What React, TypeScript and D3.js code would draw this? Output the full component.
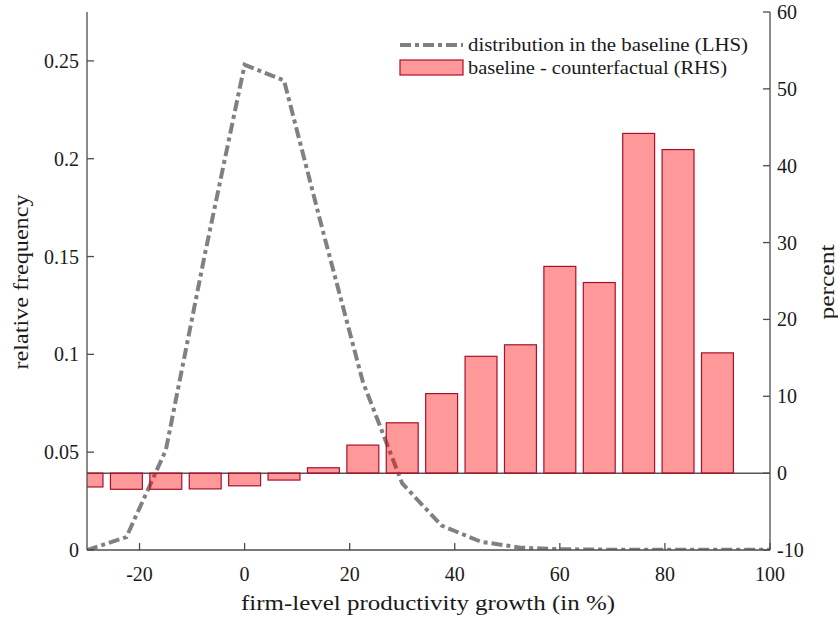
import React, { useEffect, useRef } from 'react';
import * as d3 from 'd3';

// bin centres (productivity growth, %)
const bins = [-30, -22.5, -15, -7.5, 0, 7.5, 15, 22.5, 30, 37.5, 45, 52.5, 60, 67.5, 75, 82.5, 90];
// baseline - counterfactual, percent (RHS)
const diffPct = [-1.8, -2.1, -2.1, -2.05, -1.65, -0.9, 0.7, 3.65, 6.55, 10.35, 15.2, 16.7, 26.9, 24.8, 44.2, 42.1, 15.65];
// baseline distribution (LHS)
const distX = [-30, -22.5, -15, -7.5, 0, 7.5, 15, 22.5, 30, 37.5, 45, 52.5, 60, 67.5, 75, 82.5, 90, 97.5, 105];
const distY = [0, 0.0066, 0.051, 0.152, 0.248, 0.24, 0.162, 0.086, 0.034, 0.0125, 0.0042, 0.0012, 0.0004, 0.0002, 0.0001, 0.0001, 0.0001, 0.0001, 0.0001];

const xTicks = [-20, 0, 20, 40, 60, 80, 100];
const leftTicks = [0, 0.05, 0.1, 0.15, 0.2, 0.25];
const rightTicks = [-10, 0, 10, 20, 30, 40, 50, 60];

export default function App() {
  const svgRef = useRef<SVGSVGElement>(null);

  useEffect(() => {
    const W = 838, H = 617;
    const m = { left: 87, right: 770, top: 12, bottom: 550 };
    const font = '"Liberation Serif", "DejaVu Serif", serif';
    const axisColor = '#4d4d4d';
    const txt = '#1a1a1a';

    const svg = d3.select(svgRef.current).attr('width', W).attr('height', H);
    svg.selectAll('*').remove();

    const x = d3.scaleLinear().domain([-30, 100]).range([m.left, m.right]);
    const yL = d3.scaleLinear().domain([0, 0.275]).range([m.bottom, m.top]);
    const yR = d3.scaleLinear().domain([-10, 60]).range([m.bottom, m.top]);

    svg.append('defs').append('clipPath').attr('id', 'plotclip')
      .append('rect')
      .attr('x', m.left).attr('y', m.top)
      .attr('width', m.right - m.left).attr('height', m.bottom - m.top);

    const plot = svg.append('g').attr('clip-path', 'url(#plotclip)');

    // zero line of RHS
    plot.append('line')
      .attr('x1', m.left).attr('x2', m.right)
      .attr('y1', yR(0)).attr('y2', yR(0))
      .attr('stroke', '#555').attr('stroke-width', 1.5);

    // distribution line
    const line = d3.line<number>()
      .x((_, i) => x(distX[i]))
      .y((d) => yL(d));
    plot.append('path')
      .datum(distY)
      .attr('d', line)
      .attr('fill', 'none')
      .attr('stroke', '#808080')
      .attr('stroke-width', 4)
      .attr('stroke-dasharray', '11,4,4,4');

    // bars
    const step = 7.5;
    const bw = step * 0.81;
    plot.selectAll('rect.bar')
      .data(diffPct)
      .enter()
      .append('rect')
      .attr('class', 'bar')
      .attr('x', (_, i) => x(bins[i] - bw / 2))
      .attr('width', x(bw) - x(0))
      .attr('y', (d) => Math.min(yR(d), yR(0)))
      .attr('height', (d) => Math.abs(yR(d) - yR(0)))
      .attr('fill', 'red')
      .attr('fill-opacity', 0.4)
      .attr('stroke', '#a80f2e')
      .attr('stroke-width', 1.2);

    // axes lines
    const ax = svg.append('g').attr('stroke', axisColor).attr('stroke-width', 1.3);
    ax.append('line').attr('x1', m.left).attr('x2', m.left).attr('y1', m.top).attr('y2', m.bottom);
    ax.append('line').attr('x1', m.right).attr('x2', m.right).attr('y1', m.top).attr('y2', m.bottom);
    ax.append('line').attr('x1', m.left).attr('x2', m.right).attr('y1', m.bottom).attr('y2', m.bottom);

    const tl = 7;
    const tickFs = 20;

    // bottom ticks
    xTicks.forEach((t) => {
      ax.append('line').attr('x1', x(t)).attr('x2', x(t)).attr('y1', m.bottom).attr('y2', m.bottom - tl);
      svg.append('text').attr('x', x(t)).attr('y', m.bottom + 31)
        .attr('text-anchor', 'middle').attr('font-family', font).attr('font-size', tickFs)
        .attr('fill', txt).text(String(t));
    });

    // left ticks
    leftTicks.forEach((t) => {
      ax.append('line').attr('x1', m.left).attr('x2', m.left + tl).attr('y1', yL(t)).attr('y2', yL(t));
      svg.append('text').attr('x', m.left - 8).attr('y', yL(t) + 7)
        .attr('text-anchor', 'end').attr('font-family', font).attr('font-size', tickFs)
        .attr('fill', txt).text(String(+t.toFixed(2)));
    });

    // right ticks
    rightTicks.forEach((t) => {
      ax.append('line').attr('x1', m.right).attr('x2', m.right - tl).attr('y1', yR(t)).attr('y2', yR(t));
      svg.append('text').attr('x', m.right + 7).attr('y', yR(t) + 7)
        .attr('text-anchor', 'start').attr('font-family', font).attr('font-size', tickFs)
        .attr('fill', txt).text(String(t));
    });

    // axis titles
    svg.append('text').attr('x', 428).attr('y', 610)
      .attr('text-anchor', 'middle').attr('font-family', font).attr('font-size', 21)
      .attr('textLength', 374).attr('lengthAdjust', 'spacingAndGlyphs')
      .attr('fill', txt).text('firm-level productivity growth (in %)');
    svg.append('text')
      .attr('transform', `translate(28,282) rotate(-90)`)
      .attr('text-anchor', 'middle').attr('font-family', font).attr('font-size', 21)
      .attr('textLength', 175).attr('lengthAdjust', 'spacingAndGlyphs')
      .attr('fill', txt).text('relative frequency');
    svg.append('text')
      .attr('transform', `translate(834,282) rotate(-90)`)
      .attr('text-anchor', 'middle').attr('font-family', font).attr('font-size', 21)
      .attr('textLength', 75).attr('lengthAdjust', 'spacingAndGlyphs')
      .attr('fill', txt).text('percent');

    // legend
    const lg = svg.append('g');
    lg.append('line').attr('x1', 400).attr('x2', 463).attr('y1', 45).attr('y2', 45)
      .attr('stroke', '#808080').attr('stroke-width', 4).attr('stroke-dasharray', '11,4,4,4');
    lg.append('text').attr('x', 468).attr('y', 51).attr('font-family', font).attr('font-size', 19)
      .attr('textLength', 280).attr('lengthAdjust', 'spacingAndGlyphs')
      .attr('fill', txt).text('distribution in the baseline (LHS)');
    lg.append('rect').attr('x', 400).attr('y', 60).attr('width', 63).attr('height', 15)
      .attr('fill', 'red').attr('fill-opacity', 0.4).attr('stroke', '#a80f2e').attr('stroke-width', 1.2);
    lg.append('text').attr('x', 468).attr('y', 74).attr('font-family', font).attr('font-size', 19)
      .attr('textLength', 259).attr('lengthAdjust', 'spacingAndGlyphs')
      .attr('fill', txt).text('baseline - counterfactual (RHS)');
  }, []);

  return <svg ref={svgRef} style={{ position: 'absolute', left: 0, top: 0 }}></svg>;
}
